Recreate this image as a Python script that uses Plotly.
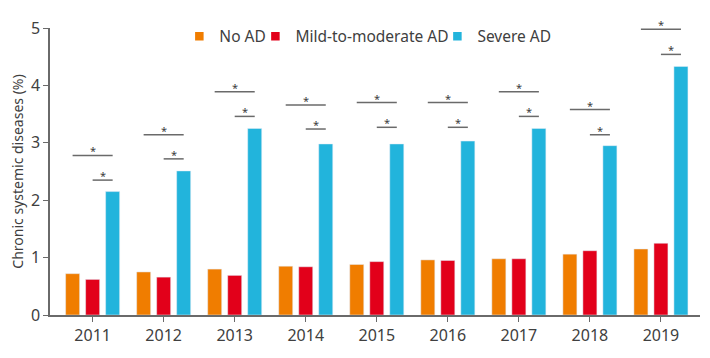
import plotly.graph_objects as go

years = ["2011", "2012", "2013", "2014", "2015", "2016", "2017", "2018", "2019"]
no_ad = [0.72, 0.75, 0.80, 0.85, 0.88, 0.96, 0.98, 1.06, 1.15]
mild_ad = [0.62, 0.66, 0.69, 0.84, 0.93, 0.95, 0.98, 1.12, 1.25]
severe_ad = [2.15, 2.51, 3.25, 2.98, 2.98, 3.03, 3.25, 2.95, 4.33]
# significance bracket heights (data units)
sig_upper = [2.78, 3.14, 3.89, 3.66, 3.70, 3.70, 3.89, 3.58, 4.98]
sig_lower = [2.35, 2.72, 3.46, 3.24, 3.27, 3.27, 3.46, 3.14, 4.54]
y_ticks = [0, 1, 2, 3, 4, 5]
series_names = ["No AD", "Mild-to-moderate AD", "Severe AD"]

c_orange = "#F07D00"
c_red = "#E2001A"
c_blue = "#22B4DC"
colors = [c_orange, c_red, c_blue]
txt = "#404040"
line_c = "#6a6a6a"

legend_ids = ["legend", "legend2", "legend3"]
legend_x = [0.199, 0.316, 0.596]

fig = go.Figure()
for name, vals, col in zip(series_names, [no_ad, mild_ad, severe_ad], colors):
    fig.add_trace(go.Bar(name=name, x=years, y=vals, marker_color=col, showlegend=False))
# legend entries with small square symbols
for name, col, lid in zip(series_names, colors, legend_ids):
    fig.add_trace(go.Scatter(name=name, x=[None], y=[None], mode="markers", legend=lid,
                             marker=dict(symbol="square", size=8.5, color=col), showlegend=True))

off = 0.282
shapes = []
annos = []
for i in range(len(years)):
    shapes.append(dict(type="line", xref="x", yref="y", x0=i - off, x1=i + off,
                       y0=sig_upper[i], y1=sig_upper[i], line=dict(color=line_c, width=1.5)))
    shapes.append(dict(type="line", xref="x", yref="y", x0=i, x1=i + off,
                       y0=sig_lower[i], y1=sig_lower[i], line=dict(color=line_c, width=1.5)))
    annos.append(dict(x=i, y=sig_upper[i], xref="x", yref="y", text="*", showarrow=False,
                      yanchor="bottom", yshift=-5, font=dict(size=11, color=txt)))
    annos.append(dict(x=i + off / 2, y=sig_lower[i], xref="x", yref="y", text="*", showarrow=False,
                      yanchor="bottom", yshift=-5, font=dict(size=11, color=txt)))

leg_common = dict(orientation="h", y=0.97, xanchor="left", yanchor="middle",
                  font=dict(size=15.5, color=txt), bgcolor="rgba(0,0,0,0)", itemwidth=30)

fig.update_layout(
    width=710, height=358,
    margin=dict(l=42, r=18, t=18, b=51),
    paper_bgcolor="white", plot_bgcolor="white",
    font=dict(family="Noto Sans", size=14, color=txt),
    barmode="group", bargap=0.155, bargroupgap=0.3,
    shapes=shapes, annotations=annos,
    legend=dict(x=legend_x[0], **leg_common),
    legend2=dict(x=legend_x[1], **leg_common),
    legend3=dict(x=legend_x[2], **leg_common),
    showlegend=True,
)
fig.update_xaxes(type="category", range=[-0.6, 8.55], showline=True, linecolor=line_c, linewidth=1.5,
                 ticks="outside", ticklen=5, tickcolor=line_c, showgrid=False, automargin=False,
                 tickfont=dict(size=16, color=txt))
fig.update_yaxes(range=[0, 5], tickvals=y_ticks, showline=True, linecolor=line_c, linewidth=1.5,
                 ticks="outside", ticklen=5, tickcolor=line_c, showgrid=False, zeroline=False,
                 automargin=False, tickfont=dict(size=16, color=txt),
                 title=dict(text="Chronic systemic diseases (%)", font=dict(size=14, color=txt), standoff=6))

fig.write_html("out.html")
